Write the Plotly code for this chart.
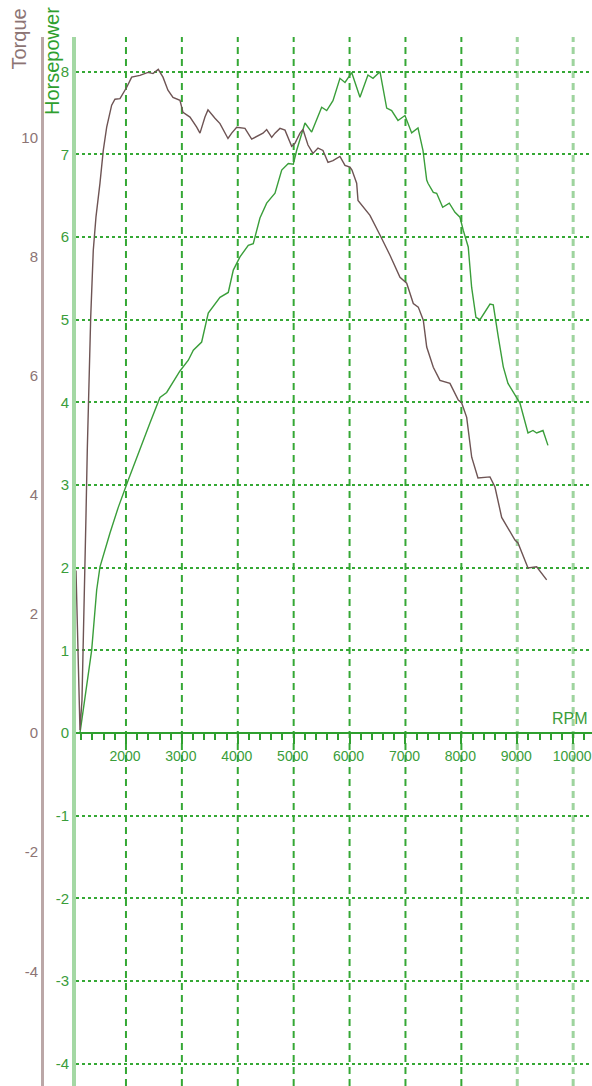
import plotly.graph_objects as go

# ---------------- data ----------------
rpm_torque = [1106, 1141, 1177, 1213, 1249, 1267, 1284, 1308, 1338, 1369, 1415, 1463,
              1535, 1594, 1655, 1744, 1803, 1893, 2013, 2102, 2250, 2394, 2483, 2578,
              2662, 2751, 2841, 2966, 3020, 3145, 3265, 3324, 3413, 3467, 3592, 3682,
              3825, 3891, 3981, 4129, 4249, 4362, 4451, 4517, 4607, 4666, 4755, 4845,
              4964, 5023, 5113, 5167, 5256, 5345, 5435, 5524, 5614, 5703, 5828, 5918,
              6007, 6043, 6127, 6151, 6365, 6544, 6723, 6902, 7022, 7140, 7229, 7319,
              7380, 7498, 7617, 7796, 7945, 8006, 8095, 8185, 8297, 8512, 8601, 8721,
              8959, 9013, 9192, 9347, 9526]
torque = [2.73, 1.22, 0.05, 0.55, 1.90, 2.52, 3.62, 4.75, 5.87, 6.98, 8.10, 8.66,
          9.23, 9.78, 10.17, 10.54, 10.64, 10.65, 10.84, 11.01, 11.04, 11.09, 11.07, 11.14,
          11.01, 10.79, 10.67, 10.62, 10.42, 10.34, 10.17, 10.07, 10.34, 10.46, 10.32, 10.23,
          9.98, 10.07, 10.17, 10.15, 9.97, 10.03, 10.07, 10.13, 10.00, 10.07, 10.15, 10.12,
          9.85, 9.90, 10.07, 10.13, 9.87, 9.73, 9.82, 9.78, 9.58, 9.61, 9.68, 9.53,
          9.50, 9.45, 9.23, 8.94, 8.69, 8.36, 8.02, 7.65, 7.55, 7.21, 7.15, 6.93,
          6.48, 6.14, 5.92, 5.87, 5.59, 5.54, 5.30, 4.63, 4.28, 4.30, 4.13, 3.62,
          3.24, 3.19, 2.77, 2.79, 2.57]

rpm_hp = [1177, 1267, 1386, 1476, 1535, 1714, 1862, 2041, 2251, 2429, 2608, 2728,
          2966, 3115, 3205, 3354, 3472, 3682, 3830, 3920, 4039, 4188, 4277, 4397,
          4517, 4666, 4786, 4904, 4993, 5054, 5202, 5322, 5501, 5591, 5703, 5828,
          5918, 6038, 6186, 6329, 6419, 6544, 6664, 6753, 6866, 6991, 7111, 7224,
          7313, 7380, 7403, 7498, 7558, 7666, 7784, 7886, 7975, 8034, 8123, 8184,
          8261, 8333, 8512, 8571, 8661, 8750, 8834, 8959, 9049, 9192, 9281, 9347,
          9460, 9549]
hp = [0.00, 0.44, 1.00, 1.73, 2.01, 2.42, 2.73, 3.06, 3.42, 3.75, 4.06, 4.12,
      4.38, 4.51, 4.63, 4.73, 5.08, 5.27, 5.33, 5.60, 5.76, 5.90, 5.92, 6.23,
      6.41, 6.53, 6.81, 6.89, 6.88, 7.05, 7.38, 7.27, 7.57, 7.53, 7.65, 7.92,
      7.87, 7.99, 7.69, 7.96, 7.92, 8.00, 7.56, 7.53, 7.41, 7.47, 7.26, 7.32,
      7.05, 6.69, 6.65, 6.54, 6.53, 6.36, 6.41, 6.30, 6.24, 6.08, 5.88, 5.39,
      5.03, 5.00, 5.19, 5.18, 4.79, 4.43, 4.23, 4.09, 3.99, 3.63, 3.66, 3.63,
      3.66, 3.48]

grid_rpm = [2000, 3000, 4000, 5000, 6000, 7000, 8000, 9000, 10000]
light_grid_rpm = [9000, 10000]

hp_ticks = [-4, -3, -2, -1, 0, 1, 2, 3, 4, 5, 6, 7, 8]
torque_ticks = [-4, -2, 0, 2, 4, 6, 8, 10]

x_range = [1106, 10337]
hp_range = [-4.27, 8.42]
torque_range = [-5.925, 11.684]

# ---------------- styles ----------------
W, H = 592, 1086
TOP = 37
X_LEFT = 76
GREEN = "#2f9f2f"
GRID_GREEN = "#35a835"
LIGHT_GREEN = "#a4d8a4"
BROWN_LINE = "#6e5454"
BROWN_TXT = "#8c7474"
BROWN_AXIS = "#bba7a7"
LBL = "Liberation Sans, Arial, sans-serif"


def lbl(v):
    return str(v)  # plain hyphen-minus, like the reference


zero_frac = (0 - hp_range[0]) / (hp_range[1] - hp_range[0])

fig = go.Figure()
fig.add_trace(go.Scatter(x=rpm_torque, y=torque, mode="lines", yaxis="y2",
                         line=dict(color=BROWN_LINE, width=1.4), hoverinfo="skip"))
fig.add_trace(go.Scatter(x=rpm_hp, y=hp, mode="lines", yaxis="y",
                         line=dict(color="#3a9e3a", width=1.4), hoverinfo="skip"))

for g in grid_rpm:
    light = g in light_grid_rpm
    fig.add_shape(type="line", xref="x", yref="paper", x0=g, x1=g, y0=0, y1=1,
                  layer="below",
                  line=dict(color="#9ed49e" if light else GRID_GREEN,
                            width=3 if light else 2, dash="7px,5px"))

fig.update_layout(
    width=W, height=H,
    margin=dict(l=0, r=0, t=TOP, b=0),
    plot_bgcolor="white", paper_bgcolor="white",
    showlegend=False, hovermode=False,
    xaxis=dict(
        domain=[X_LEFT / W, 1], range=x_range, anchor="free", position=zero_frac,
        showgrid=False, zeroline=False,
        showline=True, linecolor=GREEN, linewidth=2,
        ticks="outside", ticklen=10, tickwidth=2, tickcolor=GREEN,
        tickmode="array", tickvals=grid_rpm, ticktext=[str(g) for g in grid_rpm],
        minor=dict(tick0=0, dtick=200, ticks="outside", ticklen=6, tickwidth=1.5,
                   tickcolor=GREEN, showgrid=False),
        tickfont=dict(family=LBL, size=14, color="#3a9d3a"),
        ticklabelshift=-1, ticklabeloverflow="allow",
        automargin=False, fixedrange=True,
    ),
    yaxis=dict(
        range=hp_range, anchor="x",
        tickmode="array", tickvals=hp_ticks, ticktext=[lbl(v) for v in hp_ticks],
        showgrid=True, gridcolor=GRID_GREEN, griddash="dot", gridwidth=2,
        zeroline=False, showline=True, linecolor=LIGHT_GREEN, linewidth=4,
        ticks="", tickfont=dict(family=LBL, size=15, color="#3a9d3a"),
        automargin=False, fixedrange=True,
    ),
    yaxis2=dict(
        range=torque_range, overlaying="y", anchor="free", position=42 / W, side="left",
        tickmode="array", tickvals=torque_ticks, ticktext=[lbl(v) for v in torque_ticks],
        showgrid=False, zeroline=False,
        showline=True, linecolor=BROWN_AXIS, linewidth=3, ticks="",
        tickfont=dict(family=LBL, size=15, color=BROWN_TXT),
        automargin=False, fixedrange=True,
    ),
)

plot_h = H - TOP
fig.add_annotation(text="Torque", textangle=-90, xref="paper", yref="paper",
                   x=19 / W, y=1 + (TOP - 7) / plot_h, xanchor="center", yanchor="top",
                   showarrow=False, font=dict(family=LBL, size=20, color=BROWN_TXT))
fig.add_annotation(text="Horsepower", textangle=-90, xref="paper", yref="paper",
                   x=52 / W, y=1 + (TOP - 5) / plot_h, xanchor="center", yanchor="top",
                   showarrow=False, font=dict(family=LBL, size=20, color=GREEN))
fig.add_annotation(text="RPM", xref="paper", yref="paper",
                   x=570 / W, y=(H - 719) / plot_h, xanchor="center", yanchor="middle",
                   showarrow=False, font=dict(family=LBL, size=16, color="#3a9d3a"))

fig.write_html("out.html", config={"displayModeBar": False})
